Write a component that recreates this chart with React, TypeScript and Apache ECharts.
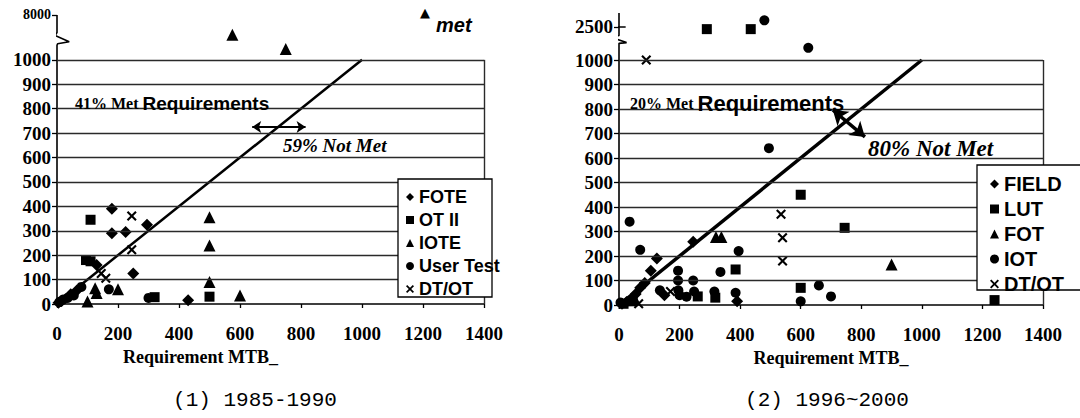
import React, { useEffect, useRef } from 'react';
import * as echarts from 'echarts';

// ---------- shared axis ticks ----------
const X_TICKS = [0, 200, 400, 600, 800, 1000, 1200, 1400];
const Y_TICKS = [0, 100, 200, 300, 400, 500, 600, 700, 800, 900, 1000];
const LEFT_BREAK_LABEL = 8000; // label shown above the axis break (panel 1)
const RIGHT_BREAK_LABEL = 2500; // label shown above the axis break (panel 2)
const REQ_LINE = [[0, 0], [1000, 1000]];

// ---------- panel (1) 1985-1990 ----------
const FOTE = [[5, 5], [15, 12], [45, 40], [65, 55], [130, 160], [180, 390], [180, 290], [225, 295], [295, 325], [250, 125], [430, 15]];
const OT_II = [[95, 180], [110, 175], [110, 345], [320, 28], [500, 30]];
const IOTE = [[100, 10], [125, 65], [130, 45], [200, 60], [500, 355], [500, 240], [500, 90], [600, 35], [575, 4900], [750, 2700]];
const USER_TEST = [[8, 8], [20, 18], [35, 25], [55, 35], [80, 70], [170, 60], [300, 25]];
const DT_OT_1 = [[145, 125], [160, 105], [245, 222], [245, 360]];

// ---------- panel (2) 1996-2000 ----------
const FIELD = [[10, 5], [25, 12], [40, 22], [55, 45], [70, 70], [85, 90], [105, 140], [125, 190], [245, 258], [150, 40], [390, 15]];
const LUT = [[15, 5], [45, 15], [260, 35], [318, 30], [385, 145], [600, 450], [745, 315], [600, 70], [1240, 20], [290, 2400], [435, 2400]];
const FOT = [[50, 30], [320, 278], [338, 278], [900, 165]];
const IOT = [[5, 10], [35, 340], [70, 225], [195, 140], [195, 100], [135, 60], [196, 60], [200, 40], [223, 34], [245, 100], [248, 55], [315, 55], [335, 135], [395, 220], [385, 50], [495, 640], [660, 80], [700, 35], [600, 15], [480, 2800], [625, 1550]];
const DT_OT_2 = [[65, 5], [170, 55], [535, 370], [540, 275], [540, 180], [90, 1000]];

const X_PATH = 'path://M0,1.5L1.5,0L5,3.5L8.5,0L10,1.5L6.5,5L10,8.5L8.5,10L5,6.5L1.5,10L0,8.5L3.5,5Z';

const LEFT_DISP = 1184;
const RIGHT_DISP = 1135;
const Y_MAX = 1200;

function toDisp(v: number, label: number, disp: number) {
  return v <= 1000 ? v : 1000 + ((v - 1000) * (disp - 1000)) / (label - 1000);
}
function mapPts(pts: number[][], label: number, disp: number) {
  return pts.map(([x, y]) => [x, toDisp(y, label, disp)]);
}

const SERIF = '"Liberation Serif", "Times New Roman", serif';
const SANS = '"Liberation Sans", Arial, sans-serif';

function scatter(name: string, data: number[][], symbol: string, size: number, idx: number) {
  return {
    type: 'scatter',
    name,
    data,
    symbol,
    symbolSize: size,
    xAxisIndex: idx,
    yAxisIndex: idx,
    itemStyle: { color: '#000', opacity: 1 },
    clip: false,
    silent: true,
    z: 4,
  };
}

function yAxis(idx: number, breakLabel: number, disp: number) {
  const vals = [...Y_TICKS, disp];
  return {
    type: 'value',
    gridIndex: idx,
    min: 0,
    max: Y_MAX,
    axisLine: { show: false },
    axisTick: { show: true, customValues: vals, length: 5, lineStyle: { color: '#000', width: 1.3 } },
    axisLabel: {
      customValues: vals,
      margin: 6,
      color: '#000',
      fontFamily: SERIF,
      fontWeight: 'bold',
      fontSize: 19,
      formatter: (v: number) => (v === disp ? (idx === 0 ? '{s|' + breakLabel + '}' : String(breakLabel)) : String(v)),
      rich: { s: { fontFamily: SERIF, fontWeight: 'bold', fontSize: 14, color: '#000' } },
    },
    splitLine: { show: false },
  };
}

function xAxis(idx: number, namePad: number[]) {
  return {
    type: 'value',
    gridIndex: idx,
    min: X_TICKS[0],
    max: X_TICKS[X_TICKS.length - 1],
    interval: X_TICKS[1] - X_TICKS[0],
    axisLine: { show: true, lineStyle: { color: '#000', width: 1.5 } },
    axisTick: { show: true, length: 4, lineStyle: { color: '#000', width: 1.3 } },
    axisLabel: {
      margin: 20, color: '#000', fontFamily: SERIF, fontWeight: 'bold', fontSize: 19,
      formatter: (v: number) => String(v),
    },
    splitLine: { show: false },
    name: 'Requirement MTB_',
    nameLocation: 'middle',
    nameGap: 40,
    nameTextStyle: { color: '#000', fontFamily: SERIF, fontWeight: 'bold', fontSize: 18, padding: namePad },
  };
}

function frameSeries(idx: number, lineWidth: number, arrow: number[][], arrowWidth: number, arrowSize: number) {
  return {
    type: 'line',
    data: REQ_LINE,
    xAxisIndex: idx,
    yAxisIndex: idx,
    symbol: 'none',
    silent: true,
    z: 3,
    lineStyle: { color: '#000', width: lineWidth },
    markLine: {
      silent: true,
      symbol: 'none',
      label: { show: false },
      lineStyle: { color: '#2a2a2a', width: 1.4, type: 'solid' },
      data: [
        ...Y_TICKS.filter((v) => v > 0).map((v) => ({ yAxis: v })),
        [{ coord: [X_TICKS[X_TICKS.length - 1], 0] }, { coord: [X_TICKS[X_TICKS.length - 1], 1000] }],
        [
          { coord: arrow[0], symbol: 'arrow', symbolSize: arrowSize, lineStyle: { color: '#000', width: arrowWidth } },
          { coord: arrow[1], symbol: 'arrow', symbolSize: arrowSize, lineStyle: { color: '#000', width: arrowWidth } },
        ],
      ],
    },
  };
}

function axisDecor(idx: number, data: any[]) {
  return {
    type: 'line',
    data,
    xAxisIndex: idx,
    yAxisIndex: idx,
    symbol: 'none',
    clip: false,
    silent: true,
    connectNulls: false,
    z: 3,
    lineStyle: { color: '#000', width: 1.6 },
  };
}

// axis break decorations (data units of each panel)
const LEFT_AXIS = [[0, 0], [0, 1060], [2, 1066], [40, 1074], [-6, 1100], [0, 1112], [0, LEFT_DISP]];
const RIGHT_AXIS = [[0, 0], [0, 1068], [25, 1071], [-24, 1092], [0, 1100], [0, 1192], '-', [-20, RIGHT_DISP], [22, RIGHT_DISP]];

export default function App() {
  const ref = useRef<HTMLDivElement>(null);
  useEffect(() => {
    if (!ref.current) return;
    const chart = echarts.init(ref.current, null, { renderer: 'svg' });
    const legendText = (size: number) => ({ color: '#000', fontFamily: SANS, fontWeight: 'bold', fontSize: size });
    chart.setOption({
      animation: false,
      backgroundColor: '#fff',
      grid: [
        { left: 57, top: 11, width: 427, height: 293 },
        { left: 619, top: 11, width: 424, height: 294 },
      ],
      xAxis: [xAxis(0, [0, 140, 0, 0]), xAxis(1, [0, 0, 0, 0])],
      yAxis: [yAxis(0, LEFT_BREAK_LABEL, LEFT_DISP), yAxis(1, RIGHT_BREAK_LABEL, RIGHT_DISP)],
      legend: [
        {
          z: 10,
          orient: 'vertical',
          left: 401,
          top: 183,
          itemWidth: 8,
          itemHeight: 8,
          itemGap: 5,
          selectedMode: false,
          textStyle: legendText(18),
          data: [
            { name: 'FOTE', icon: 'diamond' },
            { name: 'OT II', icon: 'rect' },
            { name: 'IOTE', icon: 'triangle' },
            { name: 'User Test', icon: 'circle' },
            { name: 'DT/OT', icon: X_PATH },
          ],
        },
        {
          z: 10,
          orient: 'vertical',
          left: 985,
          top: 169,
          itemWidth: 9,
          itemHeight: 9,
          itemGap: 5,
          selectedMode: false,
          textStyle: legendText(20),
          data: [
            { name: 'FIELD', icon: 'diamond' },
            { name: 'LUT', icon: 'rect' },
            { name: 'FOT', icon: 'triangle' },
            { name: 'IOT', icon: 'circle' },
            { name: 'DT/OT', icon: X_PATH },
          ],
        },
      ],
      graphic: [
        { type: 'rect', z: 6, shape: { x: 398, y: 179, width: 94, height: 118 }, style: { fill: '#fff', stroke: '#000', lineWidth: 1.3 } },
        { type: 'rect', z: 6, shape: { x: 977, y: 165, width: 110, height: 125 }, style: { fill: '#fff', stroke: '#000', lineWidth: 1.3 } },
        {
          type: 'text', z: 7, x: 75, y: 103,
          style: {
            text: '{a|41% Met }{b|Requirements}', verticalAlign: 'middle',
            rich: {
              a: { fontFamily: SERIF, fontWeight: 'bold', fontSize: 16, fill: '#000' },
              b: { fontFamily: SANS, fontWeight: 'bold', fontSize: 19, fill: '#000' },
            },
          },
        },
        { type: 'text', z: 7, x: 283, y: 145, style: { text: '59% Not Met', verticalAlign: 'middle', fontFamily: SERIF, fontStyle: 'italic', fontWeight: 'bold', fontSize: 19, fill: '#000' } },
        { type: 'text', z: 7, x: 425, y: 12, style: { text: '▲', align: 'center', verticalAlign: 'middle', fontFamily: '"DejaVu Sans"', fontSize: 13, fill: '#000' } },
        { type: 'text', z: 7, x: 436, y: 25, style: { text: 'met', verticalAlign: 'middle', fontFamily: SANS, fontStyle: 'italic', fontWeight: 'bold', fontSize: 20, fill: '#000' } },
        {
          type: 'text', z: 7, x: 630, y: 103,
          style: {
            text: '{a|20% Met }{b|Requirements}', verticalAlign: 'middle',
            rich: {
              a: { fontFamily: SERIF, fontWeight: 'bold', fontSize: 16, fill: '#000' },
              b: { fontFamily: SANS, fontWeight: 'bold', fontSize: 22, fill: '#000' },
            },
          },
        },
        { type: 'text', z: 7, x: 868, y: 148, style: { text: '80% Not Met', verticalAlign: 'middle', fontFamily: SERIF, fontStyle: 'italic', fontWeight: 'bold', fontSize: 23, fill: '#000' } },
        { type: 'text', z: 7, x: 255, y: 400, style: { text: '(1) 1985-1990', align: 'center', verticalAlign: 'middle', fontFamily: '"Liberation Mono", monospace', fontSize: 21, fill: '#000' } },
        { type: 'text', z: 7, x: 827, y: 400, style: { text: '(2) 1996~2000', align: 'center', verticalAlign: 'middle', fontFamily: '"Liberation Mono", monospace', fontSize: 21, fill: '#000' } },
      ],
      series: [
        frameSeries(0, 2.5, [[640, 725], [815, 725]], 2, 9),
        axisDecor(0, LEFT_AXIS),
        scatter('FOTE', mapPts(FOTE, LEFT_BREAK_LABEL, LEFT_DISP), 'diamond', 12, 0),
        scatter('OT II', mapPts(OT_II, LEFT_BREAK_LABEL, LEFT_DISP), 'rect', 10, 0),
        scatter('IOTE', mapPts(IOTE, LEFT_BREAK_LABEL, LEFT_DISP), 'triangle', 12, 0),
        scatter('User Test', mapPts(USER_TEST, LEFT_BREAK_LABEL, LEFT_DISP), 'circle', 10, 0),
        scatter('DT/OT', mapPts(DT_OT_1, LEFT_BREAK_LABEL, LEFT_DISP), X_PATH, 10, 0),

        frameSeries(1, 3.5, [[706, 796], [812, 686]], 3.5, 14),
        axisDecor(1, RIGHT_AXIS),
        scatter('FIELD', mapPts(FIELD, RIGHT_BREAK_LABEL, RIGHT_DISP), 'diamond', 12, 1),
        scatter('LUT', mapPts(LUT, RIGHT_BREAK_LABEL, RIGHT_DISP), 'rect', 10, 1),
        scatter('FOT', mapPts(FOT, RIGHT_BREAK_LABEL, RIGHT_DISP), 'triangle', 12, 1),
        scatter('IOT', mapPts(IOT, RIGHT_BREAK_LABEL, RIGHT_DISP), 'circle', 10, 1),
        scatter('DT/OT', mapPts(DT_OT_2, RIGHT_BREAK_LABEL, RIGHT_DISP), X_PATH, 10, 1),
      ],
    });
    return () => chart.dispose();
  }, []);
  return <div ref={ref} style={{ position: 'fixed', left: 0, top: 0, width: 1080, height: 418, background: '#fff' }} />;
}
